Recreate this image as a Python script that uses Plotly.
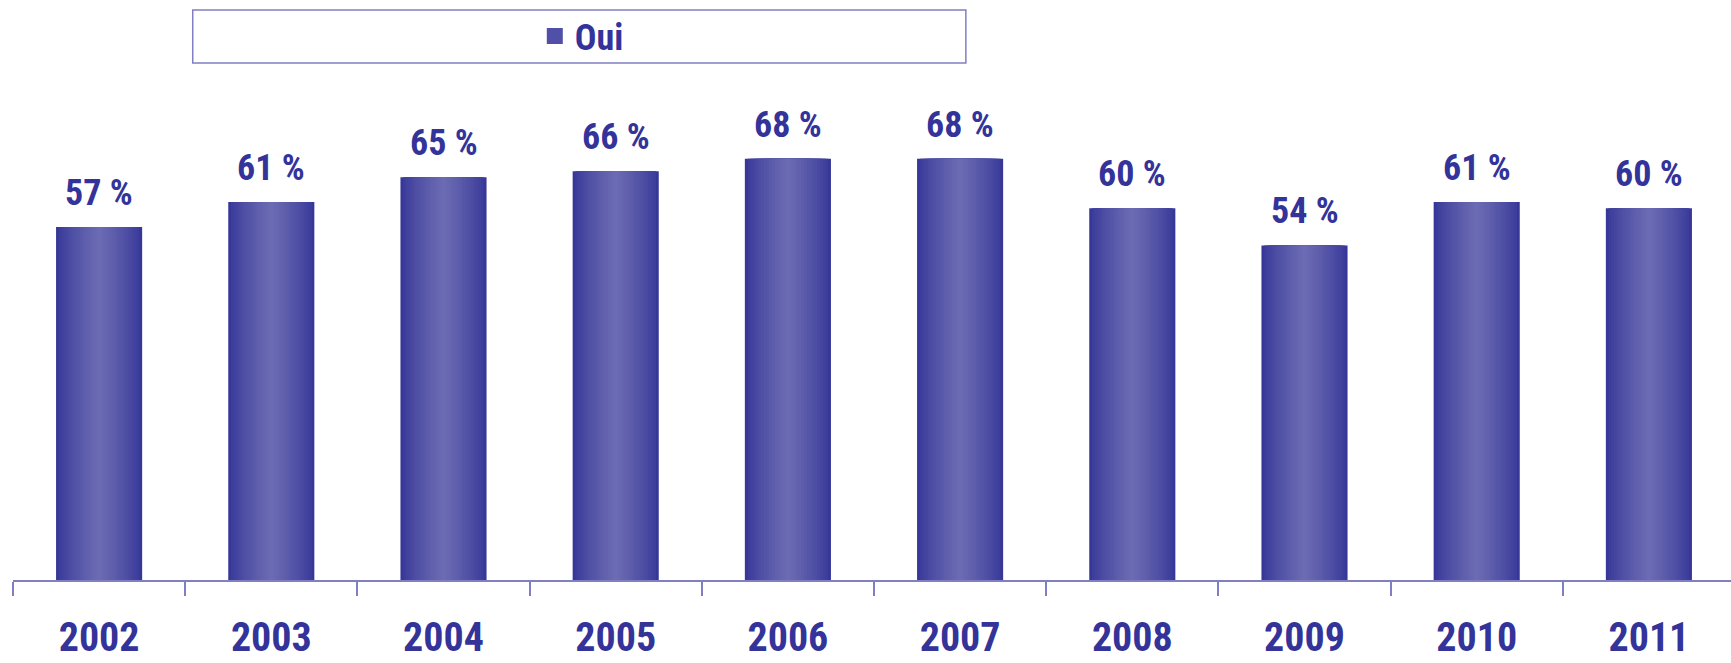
import plotly.graph_objects as go

years = ["2002", "2003", "2004", "2005", "2006", "2007", "2008", "2009", "2010", "2011"]
oui = [57, 61, 65, 66, 68, 68, 60, 54, 61, 60]
series_name = "Oui"

FONT = "Liberation Sans Narrow, Arial Narrow, Roboto Condensed, DejaVu Sans Condensed, sans-serif"
TXT = "#33339a"
EDGE = (0x37, 0x37, 0x99)
MID = (0x6b, 0x6b, 0xb3)

fig = go.Figure()

N = 16
full_w = 0.5
for k in range(N):
    t = (k / (N - 1)) ** 0.8
    col = tuple(int(round(EDGE[j] + (MID[j] - EDGE[j]) * t)) for j in range(3))
    fig.add_trace(go.Bar(
        x=years, y=oui,
        width=full_w * (1 - k / N),
        marker=dict(color="rgb(%d,%d,%d)" % col, line=dict(width=0)),
        name=series_name,
        showlegend=False,
        hoverinfo="skip" if k else None,
    ))

# legend entry
fig.add_trace(go.Scatter(
    x=[years[0]], y=[None], name=series_name, mode="markers",
    marker=dict(color="#5050a8", symbol="square", size=16),
    showlegend=True,
))

for i, v in enumerate(oui):
    fig.add_annotation(
        x=i, y=v, text="<b>%d %%</b>" % v, showarrow=False,
        yanchor="bottom", yshift=11,
        font=dict(family=FONT, size=36, color=TXT),
    )

L = 13.3
W = 1731
plot_w = W - L
H = 663
plot_bottom = 580
B = H - plot_bottom
plot_h = plot_bottom


def py(page_y):
    return 1 - page_y / plot_h


def px(page_x):
    return (page_x - L) / plot_w


fig.add_shape(
    type="rect", xref="paper", yref="paper",
    x0=px(193), x1=px(966),
    y0=py(63), y1=py(10),
    line=dict(color="#7f7fc2", width=1.5), fillcolor="white", layer="below",
)

fig.update_layout(
    width=W, height=H,
    margin=dict(l=L, r=0, t=0, b=B, autoexpand=False),
    barmode="overlay",
    plot_bgcolor="white", paper_bgcolor="white",
    font=dict(family=FONT, color=TXT),
    showlegend=True,
    legend=dict(
        x=px(582), y=py(36),
        xanchor="center", yanchor="middle",
        bgcolor="rgba(0,0,0,0)", borderwidth=0,
        font=dict(family=FONT, size=36, color=TXT, weight="bold"),
    ),
    xaxis=dict(
        type="category",
        automargin=False,
        range=[-0.5, 9.5 - 4 / 172.2],
        tickson="boundaries",
        ticks="outside", ticklen=14, tickwidth=1.5, tickcolor="#7f7fc2",
        showline=True, linecolor="#7f7fc2", linewidth=1.5,
        showgrid=False, zeroline=False,
        tickfont=dict(family=FONT, size=40, color=TXT, weight="bold"),
        ticklabelstandoff=21,
    ),
    yaxis=dict(
        automargin=False,
        range=[0, plot_h / 6.195],
        visible=False, showgrid=False, zeroline=False,
    ),
)

fig.write_html(
    "out.html",
    config={"displayModeBar": False},
    post_script="document.body.style.margin='0px';document.body.style.overflow='hidden';",
)
